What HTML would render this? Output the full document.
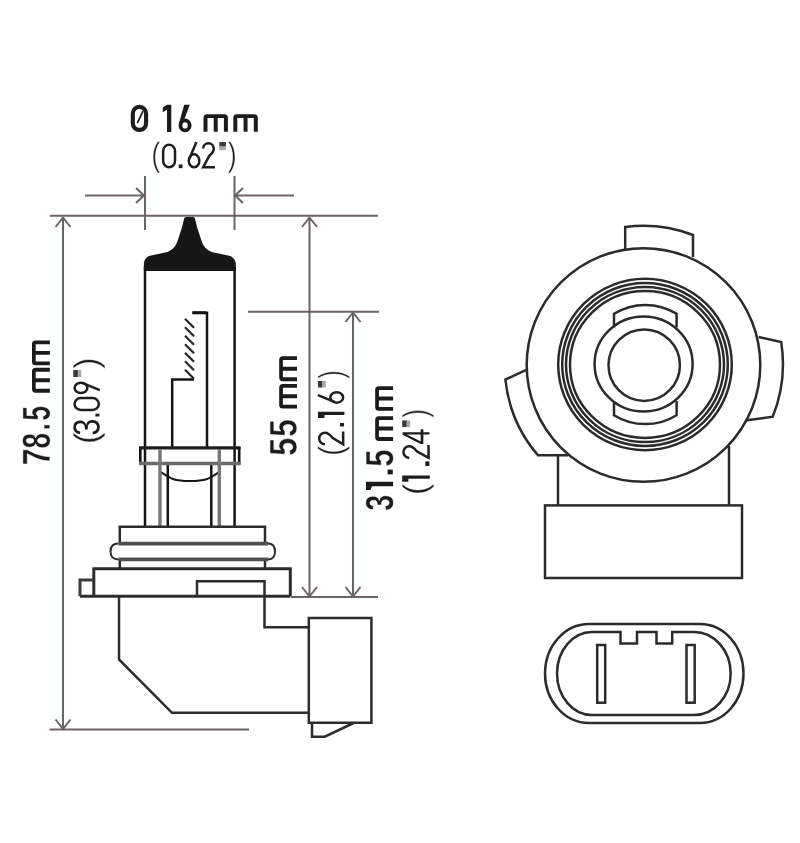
<!DOCTYPE html>
<html><head><meta charset="utf-8">
<style>
html,body{margin:0;padding:0;background:#fff;width:800px;height:843px;overflow:hidden}
svg{display:block}
.dim{stroke:#6d6366;stroke-width:2.0;fill:none}
.bl{stroke:#141414;stroke-width:2.5;fill:none}
.gr{stroke:#6a6a6a;stroke-width:2.2;fill:none}
.bs{stroke:#2c2c2c;stroke-width:2.5;fill:none}
.sk{stroke:#2b2b2b;stroke-width:2.5;fill:none}
</style></head>
<body>
<svg width="800" height="843" viewBox="0 0 800 843">
<!-- ===== dimension lines ===== -->
<g class="dim">
  <!-- top diameter -->
  <path d="M85,195.5 H144 M136,188 L144,195.5 L136,203"/>
  <path d="M294,195.5 H235 M243,188 L235,195.5 L243,203"/>
  <path d="M145,176 V230 M234.5,176 V230"/>
  <path d="M50,215.8 H378"/>
  <!-- 78.5 -->
  <path d="M63,217 V729 M55.5,227 L63,217.5 L70.5,227 M55.5,719.5 L63,729 L70.5,719.5"/>
  <path d="M49.5,729.5 H249"/>
  <!-- 55 -->
  <path d="M309.5,217 V596 M302,227 L309.5,217.5 L317,227 M302,587 L309.5,596.5 L317,587"/>
  <!-- 31.5 -->
  <path d="M248,311.8 H379"/>
  <path d="M353,312 V596 M345.5,322 L353,312.5 L360.5,322 M345.5,587 L353,596.5 L360.5,587"/>
  <path d="M291,597 H378"/>
</g>

<!-- ===== bulb ===== -->
<path fill="#161616" d="M143.9,271 V263 Q144.8,256.5 151,255.5 L167.5,252 Q175,249 177.5,241 L181.9,227.8 L184.1,218.6 Q184.5,217 186.2,217 H192.9 Q194.6,217 195,218.6 L197.2,227.8 L201.6,241 Q204.1,249 211.6,252 L228.1,255.5 Q234.3,256.5 235.8,263 V271 Z"/>
<g class="bl">
  <path d="M145,266 V526 M234.6,266 V526"/>
  <path d="M192.5,312.8 H207 V447"/><path stroke-width="3" d="M192.5,312.8 H206"/>
  <path d="M194,379.5 H172.2 V447"/>
  <path stroke-width="2.3" stroke="#2a2a2a" d="M185,318.7 L194,327.7 M185,327.2 L194,336.2 M185,335.7 L194,344.7 M185,344.2 L194,353.2 M185,352.7 L194,361.7 M185,361.2 L194,370.2 M185,369.7 L194,378.7"/>
  <!-- band -->
  <path stroke-width="3.2" stroke="#1e1e1e" d="M139,447.8 H240.5"/>
  <path stroke-width="2.6" d="M140.3,447 V464.5 M239.2,447 V464.5"/>
  <path d="M167.8,462.5 V526 M211.3,462.5 V526"/>
  <path stroke-width="2" d="M160,471.5 C170,478 172,481 190,481 C208,481 210,478 220,471.5"/>
</g>
<g class="gr">
  <path stroke-width="3.6" stroke="#6a6a6a" d="M139,463.5 H240.5"/>
  <path stroke-width="3.4" stroke="#777" d="M160,449 V526 M219.3,449 V526"/>
</g>
<!-- base -->
<g class="bs">
  <path d="M119.8,543 V526.7 H265 V543 M119.8,559.5 V568.5 M265,559.5 V568.5"/>
  <path stroke-width="3.6" stroke="#4e4e4e" d="M118.5,543.6 H268 M118.5,559.4 H268"/>
  <path stroke-width="2" d="M118.5,543.6 Q110.5,543.6 110.5,551.5 Q110.5,559.4 118.5,559.4 M268,543.6 Q275,543.6 275,551.5 Q275,559.4 268,559.4"/>
  <path stroke-width="3" d="M93.8,596.2 V568.8 H290.3 V596.2 M80,596.2 H290.3"/>
  <path stroke-width="3" stroke="#3a3a3a" d="M80,596.2 V580 H93.8"/>
  <path d="M197,596 V581.3 H264.5 V596"/>
  <path d="M119,596.2 V659.4 L172,712.8 H309"/>
  <path d="M264.5,596 V627.3 H309"/>
  <path d="M308.8,618 H371.4 V722.8 H308.8 Z"/>
  <path d="M312,723 V736.7 H324.8 L353.6,723"/>
</g>

<!-- ===== socket front view ===== -->
<g class="sk">
  <!-- top tab -->
  <path d="M625.2,249.5 V227 A139,139 0 0 1 693,235 V257"/>
  <!-- main circle -->
  <circle cx="643.5" cy="365" r="116.8"/>
  <!-- left tab -->
  <path d="M526.3,369.8 L505.4,379.6 A138,138 0 0 0 538,455.3 H568"/>
  <!-- right tab -->
  <path d="M758.6,337 L781.2,342 A141,141 0 0 1 772.7,416.7 L747,420.3"/>
  <!-- rings -->
  <ellipse cx="645" cy="364.5" rx="86.8" ry="85.7"/>
  <ellipse cx="645" cy="364.5" rx="82.8" ry="81.5"/>
  <ellipse cx="645" cy="364.5" rx="79" ry="77.6"/>
  <ellipse cx="645" cy="364.5" rx="75" ry="73.5"/>
  <!-- mid circle -->
  <ellipse cx="643.6" cy="364" rx="49" ry="47.5"/>
  <circle cx="644.2" cy="365.2" r="35.7"/>
  <!-- tabs -->
  <path d="M614,327.5 V313.8 A59.5,59.5 0 0 1 676.6,313.8 V327.5"/>
  <path d="M614,401 V415.2 A59.5,59.5 0 0 0 676.6,415.2 V401"/>
  <!-- stem -->
  <path d="M558,455 V505.4 M729,446 V505.4"/>
  <rect x="545" y="505.4" width="197" height="72.6"/>
</g>

<!-- ===== connector end view ===== -->
<g class="sk">
  <path d="M589,624 H700 A43.5,49.5 0 0 1 700,723 H589 A44,49.5 0 0 1 589,624 Z"/>
  <path d="M592,632 H620.5 V643.5 H637 V632 H656.5 V643.5 H672.2 V632 H694 A36.7,41.5 0 0 1 694,715 H592 A35,41.5 0 0 1 592,632"/>
  <rect x="597.2" y="645" width="8" height="57.7"/>
  <rect x="686.5" y="645" width="8.2" height="57.7"/>
</g>
<g fill="#1b1b1b">
<path d="M203.50,131.80 L203.50,117.80 Q203.50,114.20 207.10,114.20 L224.30,114.20 Q227.90,114.20 227.90,117.80 L227.90,131.80 L223.90,131.80 L223.90,117.90 L217.70,117.90 L217.70,131.80 L213.70,131.80 L213.70,117.90 L207.50,117.90 L207.50,131.80 Z"/>
<path d="M233.30,131.80 L233.30,117.80 Q233.30,114.20 236.90,114.20 L254.20,114.20 Q257.80,114.20 257.80,117.80 L257.80,131.80 L253.80,131.80 L253.80,117.90 L247.55,117.90 L247.55,131.80 L243.55,131.80 L243.55,117.90 L237.30,117.90 L237.30,131.80 Z"/>
<path transform="matrix(0.0000,-0.0148,-0.0192,0.0000,49.9000,465.3003)" d="M1049 1186Q954 1036 869.5 895.0Q785 754 722.0 611.5Q659 469 622.5 318.5Q586 168 586 0H293Q293 176 339.0 340.5Q385 505 472.0 675.5Q559 846 788 1178H88V1409H1049Z" stroke="#fff" stroke-width="0.6" vector-effect="non-scaling-stroke"/>
<path transform="matrix(0.0000,-0.0140,-0.0192,0.0000,49.9000,448.7130)" d="M1076 397Q1076 199 945.0 89.5Q814 -20 571 -20Q330 -20 197.5 89.0Q65 198 65 395Q65 530 143.0 622.5Q221 715 352 737V741Q238 766 168.0 854.0Q98 942 98 1057Q98 1230 220.5 1330.0Q343 1430 567 1430Q796 1430 918.5 1332.5Q1041 1235 1041 1055Q1041 940 971.5 853.0Q902 766 785 743V739Q921 717 998.5 627.5Q1076 538 1076 397ZM752 1040Q752 1140 706.0 1186.5Q660 1233 567 1233Q385 1233 385 1040Q385 838 569 838Q661 838 706.5 885.0Q752 932 752 1040ZM785 420Q785 641 565 641Q463 641 408.5 583.0Q354 525 354 416Q354 292 408.0 235.0Q462 178 573 178Q682 178 733.5 235.0Q785 292 785 420Z" stroke="#fff" stroke-width="0.6" vector-effect="non-scaling-stroke"/>
<path transform="matrix(0.0000,-0.0131,-0.0192,0.0000,49.9000,430.5277)" d="M139 0V305H428V0Z" stroke="#fff" stroke-width="0.6" vector-effect="non-scaling-stroke"/>
<path transform="matrix(0.0000,-0.0132,-0.0192,0.0000,49.9000,420.8285)" d="M1082 469Q1082 245 942.5 112.5Q803 -20 560 -20Q348 -20 220.5 75.5Q93 171 63 352L344 375Q366 285 422.0 244.0Q478 203 563 203Q668 203 730.5 270.0Q793 337 793 463Q793 574 734.0 640.5Q675 707 569 707Q452 707 378 616H104L153 1409H1000V1200H408L385 844Q487 934 640 934Q841 934 961.5 809.0Q1082 684 1082 469Z" stroke="#fff" stroke-width="0.6" vector-effect="non-scaling-stroke"/>
<path d="M49.90,392.70 L35.60,392.70 Q32.00,392.70 32.00,389.10 L32.00,371.40 Q32.00,367.80 35.60,367.80 L49.90,367.80 L49.90,371.70 L35.70,371.70 L35.70,378.30 L49.90,378.30 L49.90,382.20 L35.70,382.20 L35.70,388.80 L49.90,388.80 Z"/>
<path d="M49.90,365.30 L35.60,365.30 Q32.00,365.30 32.00,361.70 L32.00,344.00 Q32.00,340.40 35.60,340.40 L49.90,340.40 L49.90,344.30 L35.70,344.30 L35.70,350.90 L49.90,350.90 L49.90,354.80 L35.70,354.80 L35.70,361.40 L49.90,361.40 Z"/>
<path transform="matrix(0.0000,-0.0160,-0.0189,0.0000,296.6000,455.9078)" d="M1082 469Q1082 245 942.5 112.5Q803 -20 560 -20Q348 -20 220.5 75.5Q93 171 63 352L344 375Q366 285 422.0 244.0Q478 203 563 203Q668 203 730.5 270.0Q793 337 793 463Q793 574 734.0 640.5Q675 707 569 707Q452 707 378 616H104L153 1409H1000V1200H408L385 844Q487 934 640 934Q841 934 961.5 809.0Q1082 684 1082 469Z" stroke="#fff" stroke-width="0.6" vector-effect="non-scaling-stroke"/>
<path transform="matrix(0.0000,-0.0157,-0.0189,0.0000,296.6000,436.9892)" d="M1082 469Q1082 245 942.5 112.5Q803 -20 560 -20Q348 -20 220.5 75.5Q93 171 63 352L344 375Q366 285 422.0 244.0Q478 203 563 203Q668 203 730.5 270.0Q793 337 793 463Q793 574 734.0 640.5Q675 707 569 707Q452 707 378 616H104L153 1409H1000V1200H408L385 844Q487 934 640 934Q841 934 961.5 809.0Q1082 684 1082 469Z" stroke="#fff" stroke-width="0.6" vector-effect="non-scaling-stroke"/>
<path d="M297.00,408.60 L282.80,408.60 Q279.20,408.60 279.20,405.00 L279.20,387.50 Q279.20,383.90 282.80,383.90 L297.00,383.90 L297.00,387.80 L282.90,387.80 L282.90,394.30 L297.00,394.30 L297.00,398.20 L282.90,398.20 L282.90,404.70 L297.00,404.70 Z"/>
<path d="M297.00,381.20 L282.80,381.20 Q279.20,381.20 279.20,377.60 L279.20,359.80 Q279.20,356.20 282.80,356.20 L297.00,356.20 L297.00,360.10 L282.90,360.10 L282.90,366.75 L297.00,366.75 L297.00,370.65 L282.90,370.65 L282.90,377.30 L297.00,377.30 Z"/>
<path transform="matrix(0.0000,-0.0143,-0.0192,0.0000,393.1000,510.8741)" d="M1065 391Q1065 193 935.0 85.0Q805 -23 565 -23Q338 -23 204.0 81.5Q70 186 47 383L333 408Q360 205 564 205Q665 205 721.0 255.0Q777 305 777 408Q777 502 709.0 552.0Q641 602 507 602H409V829H501Q622 829 683.0 878.5Q744 928 744 1020Q744 1107 695.5 1156.5Q647 1206 554 1206Q467 1206 413.5 1158.0Q360 1110 352 1022L71 1042Q93 1224 222.0 1327.0Q351 1430 559 1430Q780 1430 904.5 1330.5Q1029 1231 1029 1055Q1029 923 951.5 838.0Q874 753 728 725V721Q890 702 977.5 614.5Q1065 527 1065 391Z" stroke="#fff" stroke-width="0.6" vector-effect="non-scaling-stroke"/>
<path d="M366,481.8 H393.1 V486.2 H366 Z M366,486.2 L372,486.2 L370.5,490 L366,490 Z"/>
<path transform="matrix(0.0000,-0.0187,-0.0192,0.0000,393.1000,477.2972)" d="M139 0V305H428V0Z" stroke="#fff" stroke-width="0.6" vector-effect="non-scaling-stroke"/>
<path transform="matrix(0.0000,-0.0153,-0.0192,0.0000,393.1000,466.7645)" d="M1082 469Q1082 245 942.5 112.5Q803 -20 560 -20Q348 -20 220.5 75.5Q93 171 63 352L344 375Q366 285 422.0 244.0Q478 203 563 203Q668 203 730.5 270.0Q793 337 793 463Q793 574 734.0 640.5Q675 707 569 707Q452 707 378 616H104L153 1409H1000V1200H408L385 844Q487 934 640 934Q841 934 961.5 809.0Q1082 684 1082 469Z" stroke="#fff" stroke-width="0.6" vector-effect="non-scaling-stroke"/>
<path d="M393.10,440.90 L378.80,440.90 Q375.20,440.90 375.20,437.30 L375.20,419.80 Q375.20,416.20 378.80,416.20 L393.10,416.20 L393.10,420.10 L378.90,420.10 L378.90,426.60 L393.10,426.60 L393.10,430.50 L378.90,430.50 L378.90,437.00 L393.10,437.00 Z"/>
<path d="M393.10,410.80 L378.80,410.80 Q375.20,410.80 375.20,407.20 L375.20,389.80 Q375.20,386.20 378.80,386.20 L393.10,386.20 L393.10,390.10 L378.90,390.10 L378.90,396.55 L393.10,396.55 L393.10,400.45 L378.90,400.45 L378.90,406.90 L393.10,406.90 Z"/>
</g>
<g fill="#1b1b1b">
<path transform="matrix(0.0127,0.0000,0.0000,-0.0164,151.4862,165.9444)" d="M127 532Q127 821 217.5 1051.0Q308 1281 496 1484H670Q483 1276 395.5 1042.0Q308 808 308 530Q308 253 394.5 20.0Q481 -213 670 -424H496Q307 -220 217.0 10.5Q127 241 127 528Z" stroke="#fff" stroke-width="0.5" vector-effect="non-scaling-stroke"/>
<g transform="translate(161.90,143.50)" fill="none" stroke="#1e1e1e" stroke-width="2.50"><rect x="1.25" y="1.25" width="11.85" height="22.50" rx="5.92" ry="6.22"/></g>
<path transform="matrix(0.0192,0.0000,0.0000,-0.0172,175.1538,168.1552)" d="M187 0V219H382V0Z"/>
<g transform="translate(187.50,141.90)" fill="none" stroke="#1e1e1e" stroke-width="2.50"><ellipse cx="6.55" cy="18.89" rx="5.30" ry="6.46"/><path d="M8.91,0.00 L1.77,17.18"/></g>
<g transform="translate(201.90,142.00)" fill="none" stroke="#1e1e1e" stroke-width="2.50"><path d="M1.25,6.55 A5.30,5.30 0 0 1 11.85,6.55 C11.85,9.55 10.85,11.05 7.20,14.05 L1.25,25.25 H13.10"/></g>
<rect x="219.3" y="142" width="6.6" height="4.6" fill="#3a3a3a"/><rect x="219.3" y="146.6" width="6.6" height="3.6" fill="#a8a8a8"/>
<path transform="matrix(0.0129,0.0000,0.0000,-0.0164,227.8453,165.9444)" d="M555 528Q555 239 464.5 9.0Q374 -221 186 -424H12Q200 -214 287.0 18.5Q374 251 374 530Q374 809 286.5 1042.0Q199 1275 12 1484H186Q375 1280 465.0 1049.5Q555 819 555 532Z" stroke="#fff" stroke-width="0.5" vector-effect="non-scaling-stroke"/>
<path transform="matrix(0.0000,-0.0168,-0.0166,0.0000,97.8778,444.0284)" d="M127 532Q127 821 217.5 1051.0Q308 1281 496 1484H670Q483 1276 395.5 1042.0Q308 808 308 530Q308 253 394.5 20.0Q481 -213 670 -424H496Q307 -220 217.0 10.5Q127 241 127 528Z" stroke="#fff" stroke-width="0.5" vector-effect="non-scaling-stroke"/>
<path transform="matrix(0.0000,-0.0150,-0.0183,0.0000,99.4345,435.6728)" d="M1049 389Q1049 194 925.0 87.0Q801 -20 571 -20Q357 -20 229.5 76.5Q102 173 78 362L264 379Q300 129 571 129Q707 129 784.5 196.0Q862 263 862 395Q862 510 773.5 574.5Q685 639 518 639H416V795H514Q662 795 743.5 859.5Q825 924 825 1038Q825 1151 758.5 1216.5Q692 1282 561 1282Q442 1282 368.5 1221.0Q295 1160 283 1049L102 1063Q122 1236 245.5 1333.0Q369 1430 563 1430Q775 1430 892.5 1331.5Q1010 1233 1010 1057Q1010 922 934.5 837.5Q859 753 715 723V719Q873 702 961.0 613.0Q1049 524 1049 389Z"/>
<path transform="matrix(0.0000,-0.0144,-0.0183,0.0000,99.4345,419.1851)" d="M187 0V219H382V0Z"/>
<g transform="matrix(0,-1,1,0,73.30,411.20)" fill="none" stroke="#1e1e1e" stroke-width="2.50"><rect x="1.25" y="1.25" width="11.90" height="24.30" rx="5.95" ry="6.25"/></g>
<g transform="matrix(0,-1,1,0,73.30,394.20)" fill="none" stroke="#1e1e1e" stroke-width="2.50"><g transform="rotate(180 6.40 13.25)"><ellipse cx="6.40" cy="18.82" rx="5.15" ry="6.43"/><path d="M8.70,0.00 L1.76,17.11"/></g></g>
<rect x="73.3" y="370" width="4.6" height="7" fill="#3a3a3a"/><rect x="77.9" y="370" width="3.4" height="7" fill="#a8a8a8"/>
<path transform="matrix(0.0000,-0.0166,-0.0166,0.0000,97.8778,368.6989)" d="M555 528Q555 239 464.5 9.0Q374 -221 186 -424H12Q200 -214 287.0 18.5Q374 251 374 530Q374 809 286.5 1042.0Q199 1275 12 1484H186Q375 1280 465.0 1049.5Q555 819 555 532Z" stroke="#fff" stroke-width="0.5" vector-effect="non-scaling-stroke"/>
<path transform="matrix(0.0000,-0.0144,-0.0166,0.0000,342.4778,455.8243)" d="M127 532Q127 821 217.5 1051.0Q308 1281 496 1484H670Q483 1276 395.5 1042.0Q308 808 308 530Q308 253 394.5 20.0Q481 -213 670 -424H496Q307 -220 217.0 10.5Q127 241 127 528Z" stroke="#fff" stroke-width="0.5" vector-effect="non-scaling-stroke"/>
<g transform="matrix(0,-1,1,0,317.90,445.60)" fill="none" stroke="#1e1e1e" stroke-width="2.50"><path d="M1.25,7.05 A5.80,5.80 0 0 1 12.85,7.05 C12.85,10.05 11.85,11.55 7.76,14.55 L1.25,25.25 H14.10"/></g>
<path transform="matrix(0.0000,-0.0174,-0.0183,0.0000,344.0345,429.6605)" d="M187 0V219H382V0Z"/>
<path d="M317.9,411.8 H344.4 V414.9 H317.9 Z M317.9,414.9 L324.5,414.9 L324.5,418 L317.9,418 Z" fill="#1e1e1e"/>
<g transform="matrix(0,-1,1,0,317.90,403.90)" fill="none" stroke="#1e1e1e" stroke-width="2.50"><ellipse cx="6.50" cy="18.82" rx="5.25" ry="6.43"/><path d="M8.84,0.00 L1.77,17.11"/></g>
<rect x="317.9" y="381" width="4.6" height="6.5" fill="#3a3a3a"/><rect x="322.5" y="381" width="3.2" height="6.5" fill="#a8a8a8"/>
<path transform="matrix(0.0000,-0.0123,-0.0166,0.0000,342.4778,378.6481)" d="M555 528Q555 239 464.5 9.0Q374 -221 186 -424H12Q200 -214 287.0 18.5Q374 251 374 530Q374 809 286.5 1042.0Q199 1275 12 1484H186Q375 1280 465.0 1049.5Q555 819 555 532Z" stroke="#fff" stroke-width="0.5" vector-effect="non-scaling-stroke"/>
<path transform="matrix(0.0000,-0.0166,-0.0166,0.0000,426.7778,495.1050)" d="M127 532Q127 821 217.5 1051.0Q308 1281 496 1484H670Q483 1276 395.5 1042.0Q308 808 308 530Q308 253 394.5 20.0Q481 -213 670 -424H496Q307 -220 217.0 10.5Q127 241 127 528Z" stroke="#fff" stroke-width="0.5" vector-effect="non-scaling-stroke"/>
<path d="M402.2,475.6 H429.8 V478.7 H402.2 Z M402.2,478.7 L408.4,478.7 L408.4,481.7 L402.2,481.7 Z" fill="#1e1e1e"/>
<path transform="matrix(0.0000,-0.0231,-0.0190,0.0000,429.4193,470.2154)" d="M187 0V219H382V0Z"/>
<g transform="matrix(0,-1,1,0,402.20,459.20)" fill="none" stroke="#1e1e1e" stroke-width="2.50"><path d="M1.25,7.10 A5.85,5.85 0 0 1 12.95,7.10 C12.95,10.10 11.95,11.60 7.81,14.60 L1.25,26.35 H14.20"/></g>
<path transform="matrix(0.0000,-0.0141,-0.0190,0.0000,429.4193,444.5649)" d="M881 319V0H711V319H47V459L692 1409H881V461H1079V319ZM711 1206Q709 1200 683.0 1153.0Q657 1106 644 1087L283 555L229 481L213 461H711Z"/>
<rect x="402.2" y="420.4" width="4.6" height="6.6" fill="#3a3a3a"/><rect x="406.8" y="420.4" width="3.4" height="6.6" fill="#a8a8a8"/>
<path transform="matrix(0.0000,-0.0125,-0.0166,0.0000,426.7778,417.5503)" d="M555 528Q555 239 464.5 9.0Q374 -221 186 -424H12Q200 -214 287.0 18.5Q374 251 374 530Q374 809 286.5 1042.0Q199 1275 12 1484H186Q375 1280 465.0 1049.5Q555 819 555 532Z" stroke="#fff" stroke-width="0.5" vector-effect="non-scaling-stroke"/>
</g>
<g fill="none" stroke="#1b1b1b">
<rect x="132.8" y="106.9" width="13.3" height="23" rx="6.4" ry="6.6" stroke-width="4.1"/>
<path d="M137.4,123.2 L143,111.2" stroke-width="1.7"/>
<ellipse cx="185.05" cy="125.45" rx="4.6" ry="5" stroke-width="3.8"/>
</g>
<path fill="#1b1b1b" d="M167,104.8 H171.3 V132 H167 Z M167,104.8 L162.8,107.4 V112.3 L167,109.8 Z M184.2,104.8 H189.8 L183.6,121.2 L178.9,123.5 Z"/>
</svg>
</body></html>
